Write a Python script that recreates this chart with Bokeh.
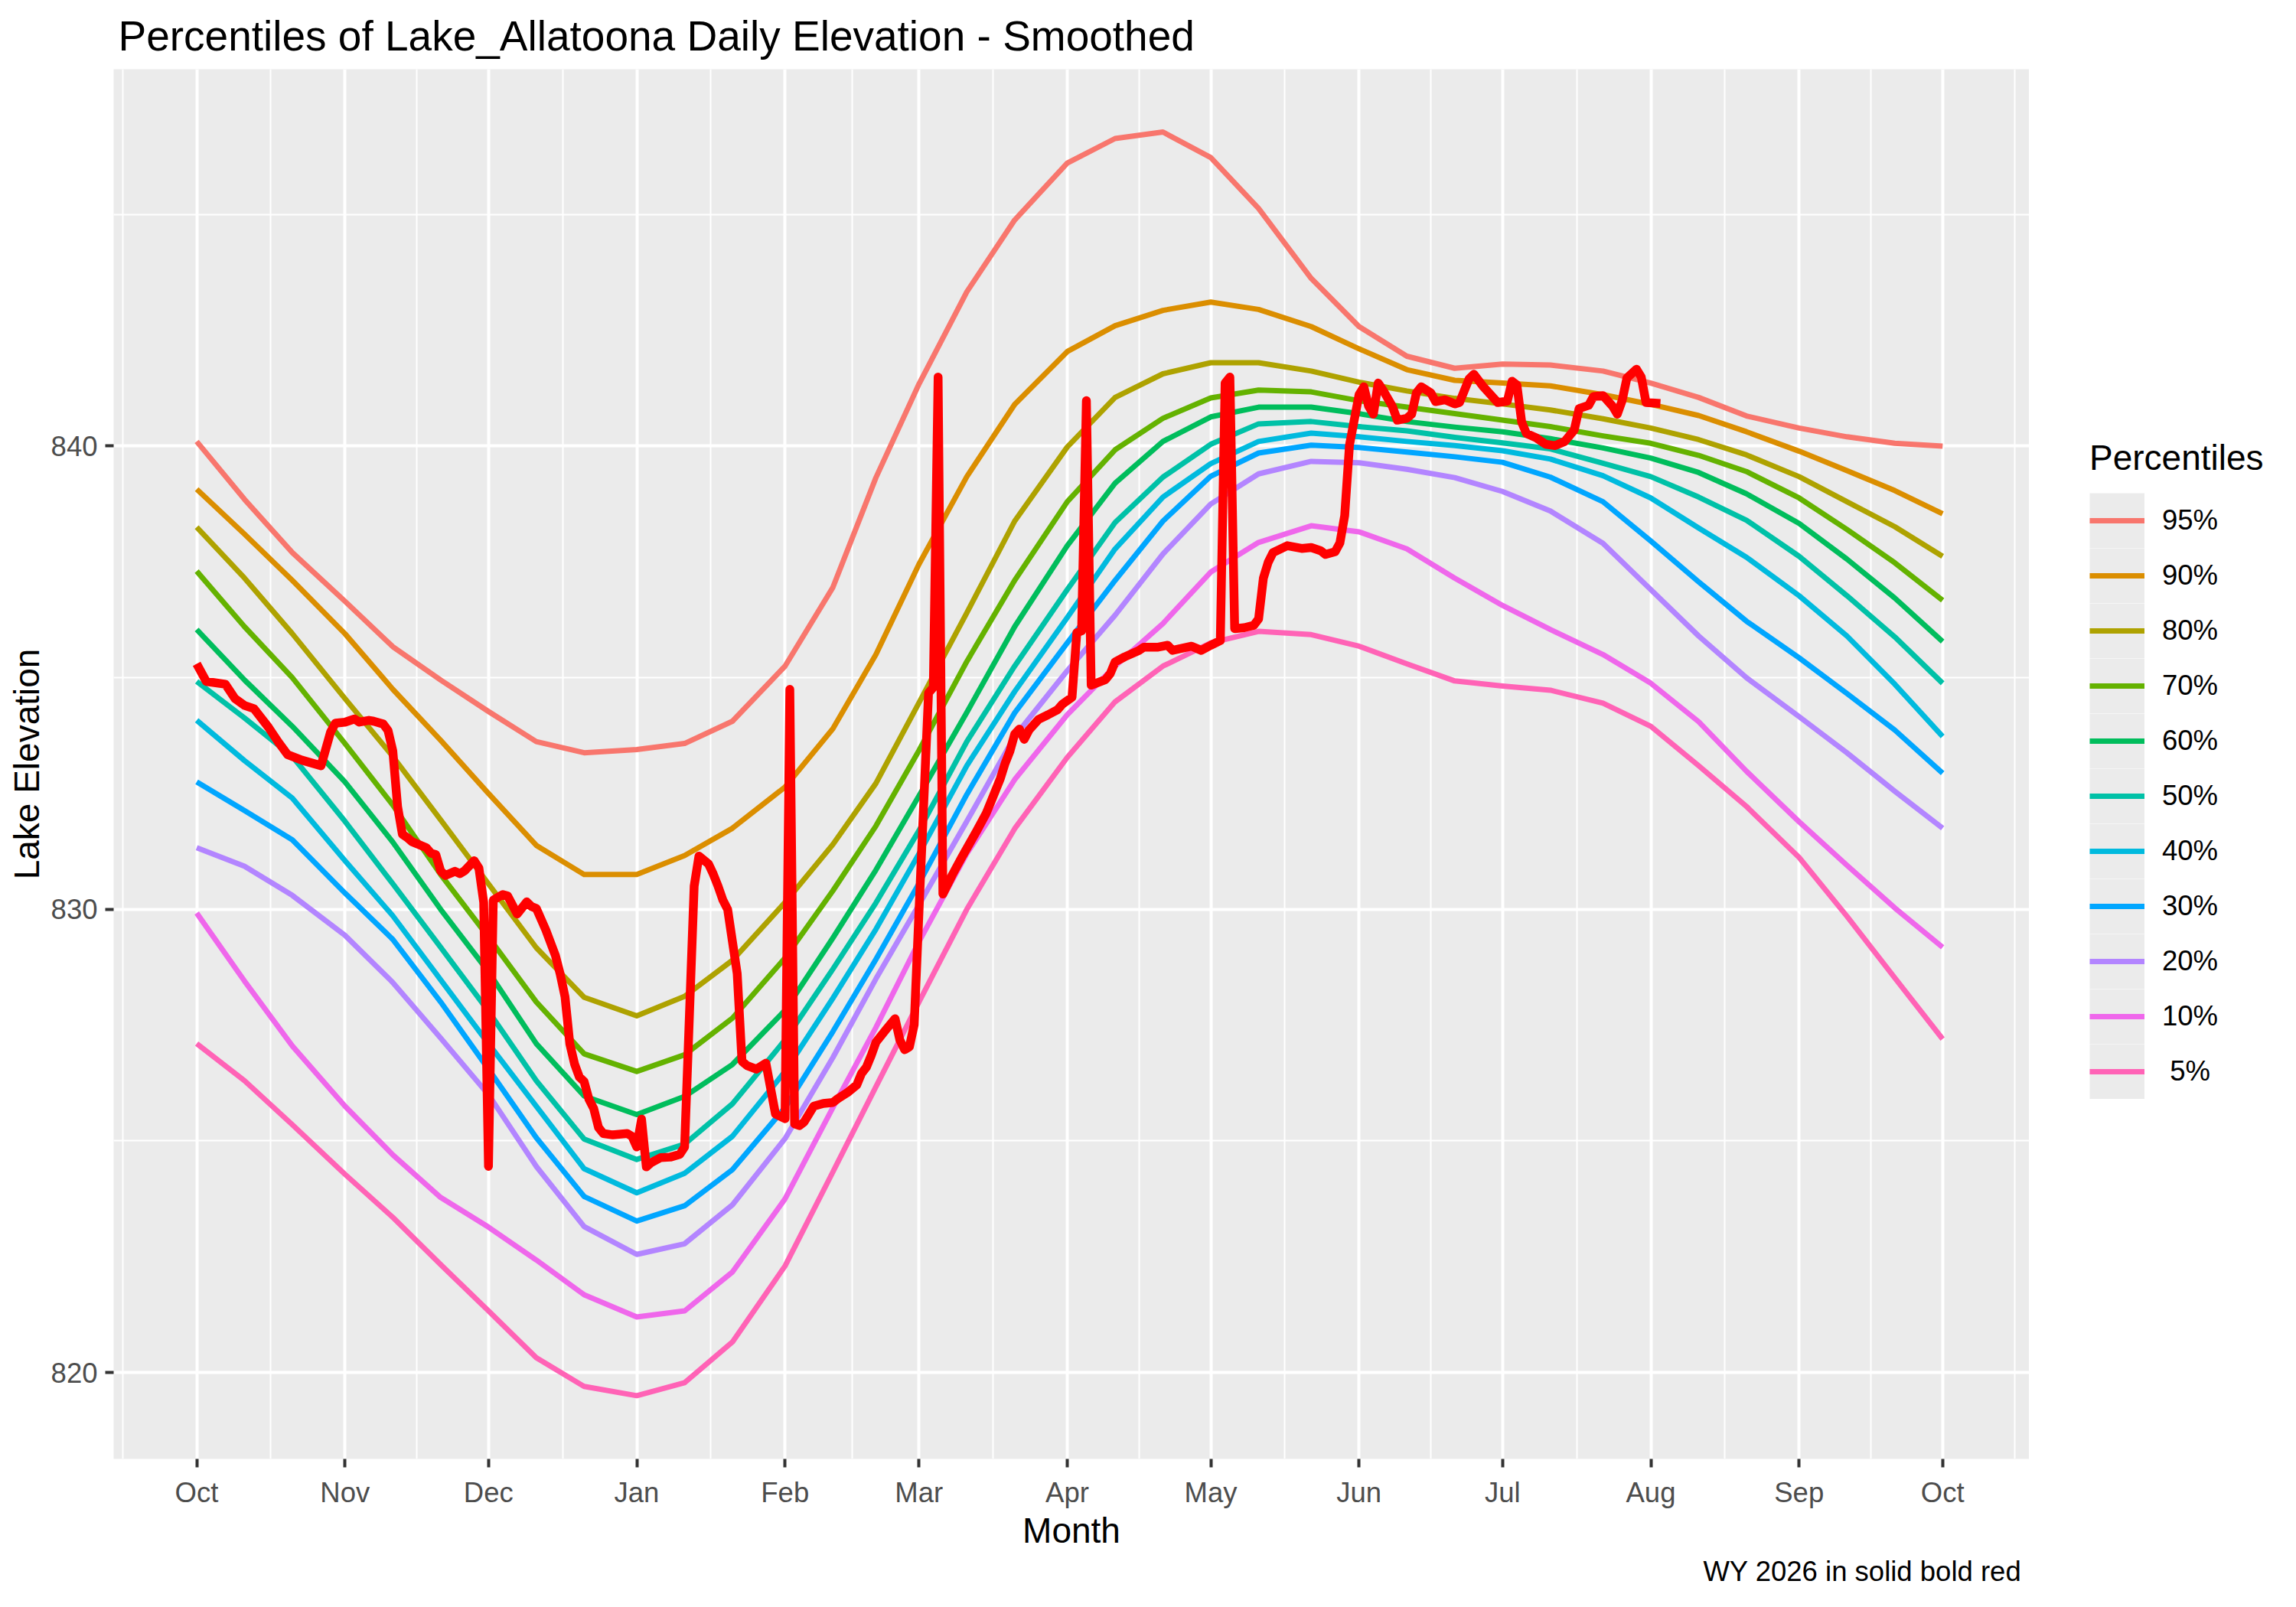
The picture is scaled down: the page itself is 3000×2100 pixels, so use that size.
from bokeh.plotting import figure
from bokeh.models import Range1d, FixedTicker, Legend, LegendItem, Title
from bokeh.layouts import row
from bokeh.embed import file_html
from bokeh.resources import INLINE

FONT = "Liberation Sans"

# day 0 = Oct 1 (water year 2026)
month_days = [0, 31, 61, 92, 123, 151, 182, 212, 243, 273, 304, 335, 365]
month_labels = ["Oct", "Nov", "Dec", "Jan", "Feb", "Mar", "Apr", "May", "Jun", "Jul", "Aug", "Sep", "Oct"]

days = [0, 10, 20, 31, 41, 51, 61, 71, 81, 92, 102, 112, 123, 133, 142, 151, 161, 171, 182,
        192, 202, 212, 222, 233, 243, 253, 263, 273, 283, 294, 304, 314, 324, 335, 345, 355, 365]

p95 = [840.1, 838.85, 837.7, 836.65, 835.67, 834.95, 834.27, 833.62, 833.38, 833.45, 833.58, 834.06,
       835.25, 836.95, 839.32, 841.34, 843.33, 844.88, 846.11, 846.64, 846.78, 846.23, 845.13, 843.62,
       842.58, 841.94, 841.68, 841.77, 841.75, 841.62, 841.36, 841.05, 840.65, 840.39, 840.2, 840.06, 840.0]
p90 = [839.07, 838.1, 837.1, 835.95, 834.75, 833.65, 832.5, 831.38, 830.75, 830.75, 831.16, 831.75,
       832.64, 833.9, 835.5, 837.45, 839.34, 840.9, 842.04, 842.6, 842.93, 843.11, 842.95, 842.58,
       842.1, 841.65, 841.42, 841.36, 841.3, 841.11, 840.9, 840.66, 840.31, 839.89, 839.47, 839.04, 838.54]
p80 = [838.25, 837.15, 835.95, 834.55, 833.3, 831.93, 830.55, 829.17, 828.1, 827.7, 828.12, 828.9,
       830.15, 831.4, 832.72, 834.46, 836.4, 838.38, 839.98, 841.05, 841.56, 841.8, 841.8, 841.62,
       841.38, 841.19, 841.03, 840.91, 840.78, 840.59, 840.39, 840.14, 839.81, 839.34, 838.8, 838.26, 837.62]
p70 = [837.3, 836.1, 835.0, 833.58, 832.25, 830.75, 829.4, 828.0, 826.88, 826.5, 826.86, 827.65,
       828.95, 830.4, 831.8, 833.43, 835.35, 837.1, 838.8, 839.92, 840.6, 841.04, 841.21, 841.17,
       840.98, 840.84, 840.7, 840.56, 840.42, 840.22, 840.06, 839.8, 839.45, 838.88, 838.2, 837.48, 836.67]
p60 = [836.04, 834.95, 833.95, 832.75, 831.45, 830.0, 828.65, 827.1, 825.97, 825.57, 825.96, 826.65,
       827.82, 829.38, 830.85, 832.45, 834.25, 836.1, 837.85, 839.2, 840.1, 840.63, 840.84, 840.84,
       840.7, 840.53, 840.41, 840.31, 840.16, 839.96, 839.74, 839.43, 838.97, 838.33, 837.56, 836.72, 835.78]
p50 = [834.92, 834.13, 833.3, 831.9, 830.55, 829.18, 827.8, 826.3, 825.04, 824.6, 824.93, 825.8,
       827.18, 828.71, 830.14, 831.7, 833.62, 835.25, 836.9, 838.35, 839.33, 840.04, 840.48, 840.53,
       840.42, 840.33, 840.19, 840.07, 839.94, 839.63, 839.34, 838.9, 838.4, 837.62, 836.77, 835.88, 834.88]
p40 = [834.08, 833.21, 832.4, 831.05, 829.86, 828.48, 827.1, 825.75, 824.4, 823.88, 824.3, 825.1,
       826.5, 828.08, 829.57, 831.2, 833.1, 834.7, 836.3, 837.78, 838.9, 839.62, 840.1, 840.28,
       840.2, 840.1, 840.01, 839.9, 839.72, 839.36, 838.88, 838.23, 837.6, 836.77, 835.9, 834.86, 833.73]
p30 = [832.75, 832.13, 831.5, 830.35, 829.35, 828.0, 826.55, 825.07, 823.8, 823.27, 823.6, 824.38,
       825.72, 827.36, 828.92, 830.56, 832.48, 834.24, 835.75, 837.1, 838.38, 839.35, 839.85, 840.02,
       839.97, 839.87, 839.77, 839.65, 839.33, 838.8, 837.95, 837.07, 836.22, 835.43, 834.66, 833.87, 832.94]
p20 = [831.33, 830.93, 830.3, 829.44, 828.42, 827.22, 826.0, 824.45, 823.15, 822.55, 822.78, 823.62,
       825.05, 826.8, 828.5, 830.1, 831.9, 833.73, 835.15, 836.35, 837.67, 838.75, 839.4, 839.67,
       839.64, 839.5, 839.32, 839.02, 838.6, 837.9, 836.9, 835.9, 835.0, 834.16, 833.38, 832.55, 831.75]
p10 = [829.92, 828.45, 827.05, 825.75, 824.7, 823.78, 823.14, 822.43, 821.68, 821.2, 821.33, 822.17,
       823.75, 825.72, 827.45, 829.3, 831.2, 832.8, 834.2, 835.25, 836.17, 837.28, 837.92, 838.28,
       838.15, 837.78, 837.15, 836.56, 836.04, 835.5, 834.88, 834.05, 832.98, 831.89, 830.95, 830.03, 829.18]
p05 = [827.1, 826.3, 825.35, 824.28, 823.35, 822.33, 821.33, 820.32, 819.7, 819.5, 819.78, 820.66,
       822.3, 824.33, 826.17, 828.0, 830.0, 831.74, 833.28, 834.48, 835.25, 835.75, 836.0, 835.93,
       835.68, 835.3, 834.93, 834.82, 834.73, 834.45, 833.95, 833.1, 832.22, 831.12, 829.85, 828.52, 827.2]

percentile_labels = ["95%", "90%", "80%", "70%", "60%", "50%", "40%", "30%", "20%", "10%", " 5%"]
percentile_series = [p95, p90, p80, p70, p60, p50, p40, p30, p20, p10, p05]
percentile_colors = ["#F8766D", "#DB8E00", "#AEA200", "#64B200", "#00BD5C", "#00C1A7",
                     "#00BADE", "#00A6FF", "#B385FF", "#EF67EB", "#FF63B6"]

# WY 2026 observed elevation (day, ft)
wy_2026 = [
    (0, 835.3), (2, 834.92), (6, 834.86), (8, 834.55), (10, 834.4), (12, 834.33), (15, 833.93),
    (17, 833.62), (19, 833.34), (22, 833.22), (26, 833.1), (28, 833.83), (29, 834.02), (31, 834.04),
    (33, 834.11), (34, 834.04), (36, 834.08), (37, 834.06), (39, 834.0), (40, 833.86), (41, 833.42),
    (42, 832.22), (43, 831.62), (44, 831.55), (45, 831.46), (48, 831.33), (49, 831.21), (50, 831.18),
    (51, 830.83), (52, 830.73), (54, 830.82), (55, 830.77), (56, 830.83), (58, 831.05), (59, 830.89),
    (60, 830.15), (61, 824.45), (62, 830.2), (63, 830.26), (64, 830.32), (65, 830.29), (67, 829.9),
    (69, 830.16), (70, 830.06), (71, 830.02), (73, 829.55), (75, 829.0), (76, 828.6), (77, 828.11),
    (78, 827.1), (79, 826.66), (80, 826.38), (81, 826.28), (82, 825.9), (83, 825.7), (84, 825.29),
    (85, 825.16), (87, 825.13), (90, 825.16), (91, 825.1), (92, 824.87), (93, 825.47), (94, 824.44),
    (95, 824.53), (97, 824.64), (99, 824.65), (101, 824.71), (102, 824.87), (104, 830.5), (105, 831.15),
    (107, 830.98), (108, 830.76), (109, 830.5), (110, 830.2), (111, 830.0), (113, 828.61), (114, 826.72),
    (115, 826.63), (117, 826.55), (119, 826.68), (121, 825.58), (123, 825.48), (124, 834.75), (125, 825.37),
    (126, 825.33), (127, 825.41), (129, 825.75), (131, 825.81), (133, 825.83), (134, 825.91), (136, 826.04),
    (138, 826.21), (139, 826.46), (140, 826.59), (141, 826.84), (142, 827.13), (144, 827.39), (146, 827.64),
    (147, 827.18), (148, 826.97), (149, 827.03), (150, 827.51), (151, 829.95), (153, 834.67), (154, 834.79),
    (155, 841.49), (156, 830.33), (158, 830.75), (160, 831.13), (163, 831.68), (165, 832.06), (166, 832.31),
    (168, 832.82), (169, 833.15), (170, 833.41), (171, 833.78), (172, 833.89), (173, 833.67), (174, 833.87),
    (176, 834.1), (178, 834.2), (180, 834.31), (181, 834.43), (183, 834.58), (184, 835.97), (185, 836.01),
    (186, 840.98), (187, 834.84), (190, 834.96), (191, 835.09), (192, 835.34), (194, 835.45), (197, 835.59),
    (198, 835.66), (201, 835.66), (203, 835.7), (204, 835.59), (208, 835.68), (210, 835.59), (212, 835.7),
    (214, 835.8), (215, 841.36), (216, 841.49), (217, 836.06), (219, 836.08), (221, 836.13), (222, 836.27),
    (223, 837.15), (224, 837.49), (225, 837.7), (228, 837.85), (231, 837.79), (233, 837.81), (235, 837.74),
    (236, 837.66), (238, 837.72), (239, 837.91), (240, 838.5), (241, 840.02), (243, 841.11), (244, 841.28),
    (245, 840.86), (246, 840.69), (247, 841.36), (248, 841.21), (250, 840.85), (251, 840.56), (253, 840.6),
    (254, 840.69), (255, 841.15), (256, 841.28), (258, 841.15), (259, 840.96), (261, 841.0), (263, 840.91),
    (264, 840.94), (266, 841.45), (267, 841.55), (269, 841.28), (272, 840.94), (274, 840.97), (275, 841.4),
    (276, 841.32), (277, 840.52), (278, 840.27), (280, 840.18), (282, 840.04), (284, 840.01), (286, 840.1),
    (288, 840.35), (289, 840.81), (291, 840.88), (292, 841.07), (294, 841.09), (296, 840.86), (297, 840.69),
    (298, 840.98), (299, 841.47), (301, 841.66), (302, 841.49), (303, 840.94), (306, 840.92),
]
wy_days = [d for d, _ in wy_2026]
wy_elev = [v for _, v in wy_2026]

# minor grid halfway between month breaks, one extra on each side (ggplot style)
minor_days = [month_days[0] - (month_days[1] - month_days[0]) / 2]
minor_days += [(a + b) / 2 for a, b in zip(month_days[:-1], month_days[1:])]
minor_days += [month_days[-1] + (month_days[-1] - month_days[-2]) / 2]

p = figure(width=2651, height=2084, output_backend="svg", toolbar_location=None,
           x_range=Range1d(-17.36, 383.12), y_range=Range1d(818.135, 848.135),
           min_border_left=148, min_border_right=0, min_border_top=88, min_border_bottom=178,
           title="Percentiles of Lake_Allatoona Daily Elevation - Smoothed",
           x_axis_label="Month", y_axis_label="Lake Elevation")
p.background_fill_color = "#EBEBEB"
p.border_fill_color = "white"
p.outline_line_color = None

p.title.text_font = FONT
p.title.text_font_size = "55px"
p.title.text_font_style = "normal"
p.title.text_color = "black"
p.title.align = "left"
p.title.offset = 6
p.title.standoff = 26

p.xaxis.ticker = FixedTicker(ticks=month_days, minor_ticks=minor_days)
p.xaxis.major_label_overrides = {d: m for d, m in zip(month_days, month_labels)}
p.yaxis.ticker = FixedTicker(ticks=[820, 830, 840], minor_ticks=[815, 825, 835, 845])

for ax in (p.xaxis[0], p.yaxis[0]):
    ax.axis_line_color = None
    ax.major_tick_line_color = "#333333"
    ax.major_tick_line_width = 4
    ax.major_tick_out = 11
    ax.major_tick_in = 0
    ax.minor_tick_out = 0
    ax.minor_tick_in = 0
    ax.major_label_text_font = FONT
    ax.major_label_text_font_size = "36.5px"
    ax.major_label_text_color = "#4D4D4D"
    ax.axis_label_text_font = FONT
    ax.axis_label_text_font_size = "46px"
    ax.axis_label_text_font_style = "normal"
    ax.axis_label_text_color = "black"
p.xaxis.major_label_standoff = 12
p.xaxis.axis_label_standoff = 0
p.yaxis.major_label_standoff = 10
p.yaxis.axis_label_standoff = 3

for g in (p.xgrid[0], p.ygrid[0]):
    g.grid_line_color = "white"
    g.grid_line_width = 4
    g.minor_grid_line_color = "white"
    g.minor_grid_line_width = 2

for vals, col in zip(percentile_series, percentile_colors):
    p.line(days, vals, line_color=col, line_width=7, line_join="round")

p.line(wy_days, wy_elev, line_color="#FF0000", line_width=11.5, line_join="round")

caption = Title(text="WY 2026 in solid  bold red", align="right", text_font=FONT,
                text_font_size="36.5px", text_font_style="normal", text_color="black", standoff=4)
p.add_layout(caption, "below")

# legend panel to the right of the plot; its lines sit outside its own ranges,
# so only the legend keys show
lg = figure(width=333, height=2084, output_backend="svg", toolbar_location=None,
            x_range=Range1d(0, 1), y_range=Range1d(0, 1),
            x_axis_location=None, y_axis_location=None,
            min_border_left=0, min_border_right=0, min_border_top=0, min_border_bottom=0)
lg.grid.visible = False
lg.outline_line_color = None
lg.background_fill_color = "white"
lg.border_fill_color = "white"

key_bg = lg.line(days, p95, line_color="#EBEBEB", line_width=72)
items = []
for lab, vals, col in zip(percentile_labels, percentile_series, percentile_colors):
    r = lg.line(days, vals, line_color=col, line_width=7)
    items.append(LegendItem(label=lab, renderers=[key_bg, r]))

legend = Legend(items=items, location=(79, 470))
legend.title = "Percentiles"
legend.title_text_font = FONT
legend.title_text_font_size = "46px"
legend.title_text_font_style = "normal"
legend.title_text_color = "black"
legend.title_standoff = 19
legend.label_text_font = FONT
legend.label_text_font_size = "36.5px"
legend.label_text_color = "black"
legend.label_standoff = 23
legend.glyph_width = 72
legend.glyph_height = 72
legend.spacing = 0
legend.padding = 0
legend.margin = 0
legend.border_line_color = None
legend.background_fill_alpha = 0
lg.add_layout(legend)

layout = row(p, lg)
open("out.html", "w").write(file_html(layout, INLINE))
